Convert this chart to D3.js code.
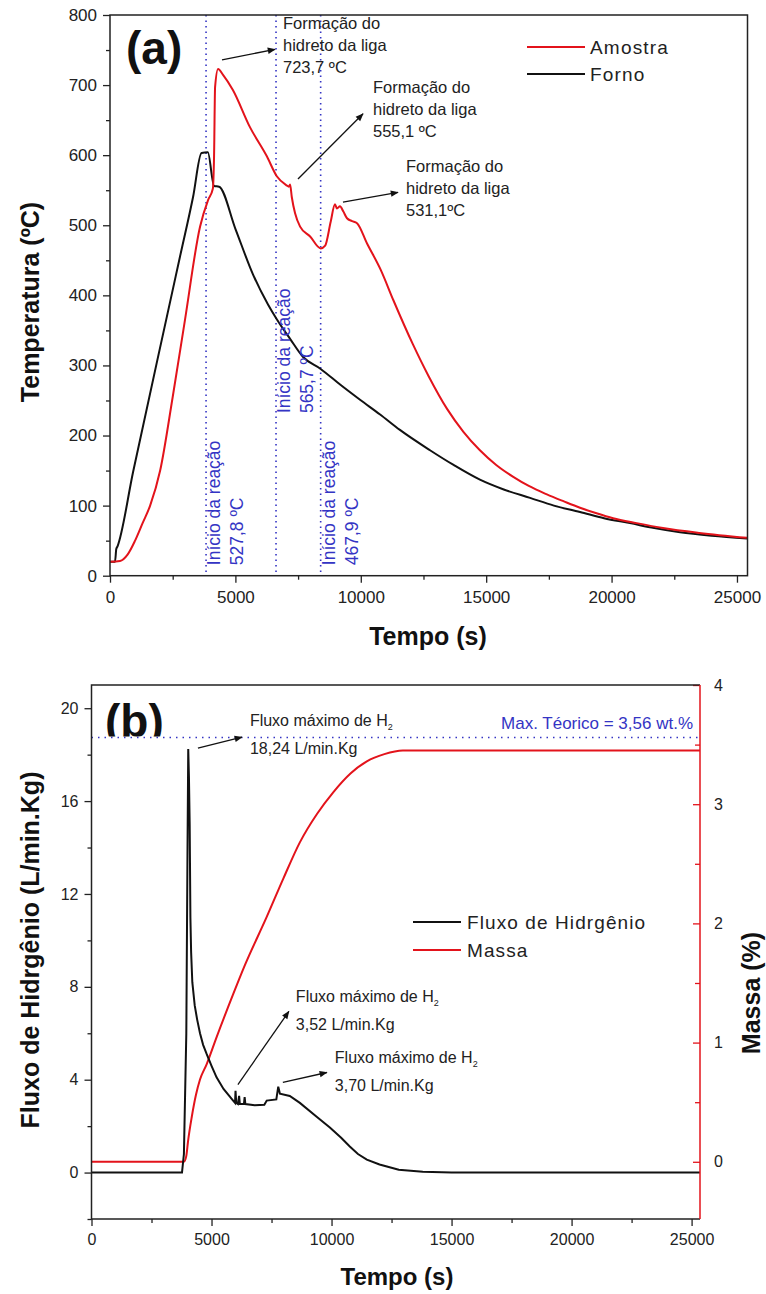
<!DOCTYPE html>
<html>
<head>
<meta charset="utf-8">
<script src="https://cdn.jsdelivr.net/npm/d3@7"></script>
<style>
  body { margin: 0; background: #fff; }
  svg { font-family: "Liberation Sans", Arial, sans-serif; }
</style>
</head>
<body>
<svg id="chart" width="766" height="1294"></svg>
<script>
// ---------- data, panel (a): temperature vs time ----------
const amostra = [
  [0,20],[400,21],[700,30],[1000,50],[1300,75],[1600,100],[2000,150],[2500,255],[2990,365],
  [3590,498],[3910,536],[4100,552],[4150,600],[4190,697],[4310,723],[4500,715],[4900,693],
  [5580,640],[6260,598],[6650,570],[7040,557],[7130,555],[7180,558],[7250,540],[7380,517],
  [7580,498],[7980,484],[8400,467],[8580,471],[8800,505],[8970,530],[9050,524],[9170,527],
  [9300,520],[9450,510],[9650,506],[9850,503],[10250,474],[10800,436],[11300,393],[12080,330],
  [12700,285],[13440,238],[14100,205],[14750,179],[15400,158],[16080,141],[16700,128],
  [17420,116],[18100,106],[18740,97],[19400,89],[20060,82],[21000,75],[22050,68],[23500,61],
  [25400,54]
];
const forno = [
  [0,20],[200,20],[250,38],[300,42],[920,148],[2270,370],[2790,455],[3310,540],[3650,603],
  [3900,604],[4150,556],[4350,555],[5000,495],[5700,430],[6300,387],[6650,366],[7180,338],
  [7700,312],[8400,295],[9200,272],[9970,251],[10770,230],[11560,208],[12760,179],[13700,158],
  [14750,137],[15700,123],[16750,111],[17700,100],[18740,91],[19700,82],[20730,75],[21700,68],
  [22730,62],[24000,57],[25400,53]
];
const reactionLines = [3830, 6620, 8400];
const reactionLabels = [
  { t: 3830, base: 15, lines: ["Início da reação", "527,8 ºC"] },
  { t: 6620, base: 232, lines: ["Início da reação", "565,7 ºC"] },
  { t: 8400, base: 15, lines: ["Início da reação", "467,9 ºC"] }
];
const peakNotes = [
  { t: 6898, T: 780, lines: ["Formação do", "hidreto da liga", "723,7 ºC"], from: [4466, 736], to: [6579, 751] },
  { t: 10486, T: 689, lines: ["Formação do", "hidreto da liga", "555,1 ºC"], from: [7496, 566], to: [10088, 659] },
  { t: 11802, T: 576, lines: ["Formação do", "hidreto da liga", "531,1ºC"], from: [9290, 533], to: [11483, 547] }
];
const tempTicks = [0, 100, 200, 300, 400, 500, 600, 700, 800];
const tempMinor = [50, 150, 250, 350, 450, 550, 650, 750];
const timeTicks = [0, 5000, 10000, 15000, 20000, 25000];
const timeMinor = [2500, 7500, 12500, 17500, 22500];

// ---------- data, panel (b): hydrogen flow and mass ----------
const fluxo = [
  [0,0],[3770,0],[3850,0.8],[3950,6],[4000,14],[4030,18.24],[4060,17],[4090,15],[4120,11],
  [4150,9.5],[4200,8.2],[4300,7.2],[4400,6.6],[4520,6.0],[4650,5.5],[4800,5.1],[5000,4.6],
  [5210,4.1],[5500,3.6],[5900,3.1],[5980,3.0],[6000,3.52],[6030,3.0],[6100,2.95],[6150,3.3],
  [6180,2.95],[6350,2.95],[6380,3.25],[6410,2.95],[6800,2.9],[7200,2.92],[7300,3.1],[7700,3.15],
  [7780,3.70],[7850,3.4],[8260,3.3],[8680,3.0],[9380,2.4],[9930,1.94],[10400,1.5],[10760,1.12],
  [11100,0.8],[11470,0.56],[12000,0.35],[12800,0.12],[13800,0.03],[15000,0],[25350,0]
];
const massa = [
  [0,0],[3850,0],[3950,0.05],[4020,0.17],[4180,0.38],[4350,0.56],[4520,0.69],[4800,0.82],
  [5220,1.05],[5890,1.4],[6390,1.65],[7290,2.05],[8000,2.38],[8680,2.68],[9400,2.92],
  [10070,3.1],[10800,3.26],[11470,3.36],[12200,3.42],[12970,3.45],[25350,3.45]
];
const maxTeorico = 3.56;
const flowNotes = [
  { t: 6599, F: 19.22, value: "18,24 L/min.Kg", from: [4434, 18.28], to: [6266, 18.75] },
  { t: 8514, F: 7.33, value: "3,52 L/min.Kg", from: [6099, 3.79], to: [8222, 6.94] },
  { t: 10138, F: 4.74, value: "3,70 L/min.Kg", from: [7972, 3.88], to: [9804, 4.31] }
];
const flowTicks = [0, 4, 8, 12, 16, 20];
const flowMinor = [-2, 2, 6, 10, 14, 18];
const massTicks = [0, 1, 2, 3, 4];
const massMinor = [0.5, 1.5, 2.5, 3.5];

const RED = "#e3131b", BLUE = "#3434c4";
const svg = d3.select("#chart");
const defs = svg.append("defs");

defs.append("marker")
  .attr("id", "arrow").attr("viewBox", "0 0 10 10")
  .attr("refX", 9).attr("refY", 5)
  .attr("markerWidth", 11).attr("markerHeight", 8)
  .attr("markerUnits", "userSpaceOnUse")
  .attr("orient", "auto")
  .append("path").attr("d", "M0,1 L10,5 L0,9 Z").attr("fill", "#111");

function styleAxis(g, color, size) {
  g.select(".domain").remove();
  g.selectAll("line").attr("stroke", color || "#222").attr("stroke-width", 1.3);
  g.selectAll("text").attr("font-size", size || 16).attr("fill", "#222")
    .attr("font-family", "Liberation Sans, Arial, sans-serif");
}

// ================= panel (a) =================
const xA = d3.scaleLinear().domain([0, 25420]).range([110, 747.5]);
const yA = d3.scaleLinear().domain([0, 800]).range([575.7, 15]);
const gA = svg.append("g");

gA.append("g").attr("transform", `translate(0,${yA(0)})`)
  .call(d3.axisBottom(xA).tickValues(timeTicks).tickFormat(d3.format("d")).tickSize(7).tickPadding(8))
  .call(g => styleAxis(g, null, 17));
gA.append("g").attr("transform", `translate(0,${yA(0)})`)
  .call(d3.axisBottom(xA).tickValues(timeMinor).tickFormat("").tickSize(4))
  .call(styleAxis);
gA.append("g").attr("transform", `translate(${xA(0)},0)`)
  .call(d3.axisLeft(yA).tickValues(tempTicks).tickFormat(d3.format("d")).tickSize(7).tickPadding(6))
  .call(g => styleAxis(g, null, 17));
gA.append("g").attr("transform", `translate(${xA(0)},0)`)
  .call(d3.axisLeft(yA).tickValues(tempMinor).tickFormat("").tickSize(4))
  .call(styleAxis);

// reaction start lines
gA.selectAll(".rline").data(reactionLines).enter().append("line")
  .attr("x1", d => xA(d)).attr("x2", d => xA(d))
  .attr("y1", yA(800)).attr("y2", yA(0))
  .attr("stroke", BLUE).attr("stroke-width", 1.6).attr("stroke-dasharray", "1.5,4");

const lineA = d3.line().x(d => xA(d[0])).y(d => yA(d[1])).curve(d3.curveMonotoneX);
gA.append("path").datum(forno).attr("d", lineA)
  .attr("fill", "none").attr("stroke", "#111").attr("stroke-width", 2);
gA.append("path").datum(amostra).attr("d", lineA)
  .attr("fill", "none").attr("stroke", RED).attr("stroke-width", 2);

gA.append("rect").attr("x", xA(0)).attr("y", yA(800))
  .attr("width", xA.range()[1] - xA(0)).attr("height", yA(0) - yA(800))
  .attr("fill", "none").attr("stroke", "#222").attr("stroke-width", 1.5);

// rotated blue labels
reactionLabels.forEach(r => {
  const x0 = xA(r.t);
  r.lines.forEach((s, i) => {
    const x = x0 + 14 + i * 23, y = yA(r.base);
    gA.append("text").attr("transform", `translate(${x},${y}) rotate(-90)`)
      .attr("font-size", 17.5).attr("fill", BLUE).text(s);
  });
});

// peak notes
peakNotes.forEach(n => {
  const t = gA.append("text").attr("x", xA(n.t)).attr("y", yA(n.T))
    .attr("font-size", 16.5).attr("fill", "#222");
  n.lines.forEach((s, i) => t.append("tspan").attr("x", xA(n.t)).attr("dy", i ? 22 : 0).text(s));
  gA.append("line")
    .attr("x1", xA(n.from[0])).attr("y1", yA(n.from[1]))
    .attr("x2", xA(n.to[0])).attr("y2", yA(n.to[1]))
    .attr("stroke", "#111").attr("stroke-width", 1.3).attr("marker-end", "url(#arrow)");
});

gA.append("text").attr("x", 126).attr("y", 64)
  .attr("font-size", 46).attr("font-weight", "bold").attr("fill", "#111").text("(a)");

// legend (a)
const legA = [{ name: "Amostra", color: RED }, { name: "Forno", color: "#111" }];
legA.forEach((l, i) => {
  const y = 47 + i * 27;
  gA.append("line").attr("x1", 527).attr("x2", 585).attr("y1", y).attr("y2", y)
    .attr("stroke", l.color).attr("stroke-width", 2);
  gA.append("text").attr("x", 590).attr("y", y + 7).attr("font-size", 19)
    .attr("letter-spacing", 1.2).attr("fill", "#222").text(l.name);
});

gA.append("text").attr("x", 428).attr("y", 645).attr("text-anchor", "middle")
  .attr("font-size", 25).attr("font-weight", "bold").attr("fill", "#111").text("Tempo (s)");
gA.append("text").attr("transform", `translate(39,302) rotate(-90)`)
  .attr("text-anchor", "middle").attr("font-size", 25).attr("font-weight", "bold")
  .attr("fill", "#111").text("Temperatura (ºC)");

// ================= panel (b) =================
const xB = d3.scaleLinear().domain([0, 25350]).range([91.5, 700]);
const yB = d3.scaleLinear().domain([-2, 21]).range([1219, 685]);
const yM = d3.scaleLinear().domain([-0.48, 4]).range([1219, 685]);
const gB = svg.append("g");

gB.append("g").attr("transform", `translate(0,${yB(-2)})`)
  .call(d3.axisBottom(xB).tickValues(timeTicks).tickFormat(d3.format("d")).tickSize(7).tickPadding(8))
  .call(styleAxis);
gB.append("g").attr("transform", `translate(0,${yB(-2)})`)
  .call(d3.axisBottom(xB).tickValues(timeMinor).tickFormat("").tickSize(4))
  .call(styleAxis);
gB.append("g").attr("transform", `translate(${xB(0)},0)`)
  .call(d3.axisLeft(yB).tickValues(flowTicks).tickFormat(d3.format("d")).tickSize(7).tickPadding(6))
  .call(styleAxis);
gB.append("g").attr("transform", `translate(${xB(0)},0)`)
  .call(d3.axisLeft(yB).tickValues(flowMinor).tickFormat("").tickSize(4))
  .call(styleAxis);
gB.append("g").attr("transform", `translate(${xB.range()[1]},0)`)
  .call(d3.axisRight(yM).tickValues(massTicks).tickFormat(d3.format("d")).tickSizeInner(-7).tickSizeOuter(0).tickPadding(14))
  .call(g => styleAxis(g, RED));
gB.append("g").attr("transform", `translate(${xB.range()[1]},0)`)
  .call(d3.axisRight(yM).tickValues(massMinor).tickFormat("").tickSizeInner(-5).tickSizeOuter(0))
  .call(g => styleAxis(g, RED));

// theoretical max line
gB.append("line").attr("x1", xB(0)).attr("x2", xB.range()[1])
  .attr("y1", yM(maxTeorico)).attr("y2", yM(maxTeorico))
  .attr("stroke", BLUE).attr("stroke-width", 1.6).attr("stroke-dasharray", "1.5,5");
gB.append("text").attr("x", xB.range()[1] - 7).attr("y", yM(3.63))
  .attr("text-anchor", "end").attr("font-size", 17).attr("fill", BLUE)
  .text("Max. Téorico = 3,56 wt.%");

gB.append("path").datum(massa)
  .attr("d", d3.line().x(d => xB(d[0])).y(d => yM(d[1])).curve(d3.curveMonotoneX))
  .attr("fill", "none").attr("stroke", RED).attr("stroke-width", 2);
gB.append("path").datum(fluxo)
  .attr("d", d3.line().x(d => xB(d[0])).y(d => yB(d[1])))
  .attr("fill", "none").attr("stroke", "#111").attr("stroke-width", 2);

// frame: black left/top/bottom, red right
const bx0 = xB(0), bx1 = xB.range()[1], by0 = yB(21), by1 = yB(-2);
gB.append("path").attr("d", `M${bx1},${by0} H${bx0} V${by1} H${bx1}`)
  .attr("fill", "none").attr("stroke", "#222").attr("stroke-width", 1.5);
gB.append("line").attr("x1", bx1).attr("x2", bx1).attr("y1", by0).attr("y2", by1)
  .attr("stroke", RED).attr("stroke-width", 1.5);

flowNotes.forEach(n => {
  const t = gB.append("text").attr("x", xB(n.t)).attr("y", yB(n.F))
    .attr("font-size", 16).attr("fill", "#222");
  t.append("tspan").text("Fluxo máximo de H");
  t.append("tspan").attr("font-size", 9).attr("dy", 4).text("2");
  gB.append("text").attr("x", xB(n.t)).attr("y", yB(n.F) + 28)
    .attr("font-size", 16).attr("fill", "#222").text(n.value);
  gB.append("line")
    .attr("x1", xB(n.from[0])).attr("y1", yB(n.from[1]))
    .attr("x2", xB(n.to[0])).attr("y2", yB(n.to[1]))
    .attr("stroke", "#111").attr("stroke-width", 1.3).attr("marker-end", "url(#arrow)");
});

// "(b)" is cut off at the dotted line, as in the original figure
defs.append("clipPath").attr("id", "clipB").append("rect")
  .attr("x", bx0).attr("y", by0).attr("width", 200).attr("height", yM(maxTeorico) - by0 - 1);
gB.append("text").attr("x", 105).attr("y", 737).attr("clip-path", "url(#clipB)")
  .attr("font-size", 46).attr("font-weight", "bold").attr("fill", "#111").text("(b)");

const legB = [{ name: "Fluxo de Hidrgênio", color: "#111" }, { name: "Massa", color: RED }];
legB.forEach((l, i) => {
  const y = 922 + i * 28;
  gB.append("line").attr("x1", 413).attr("x2", 461).attr("y1", y).attr("y2", y)
    .attr("stroke", l.color).attr("stroke-width", 2);
  gB.append("text").attr("x", 467).attr("y", y + 7).attr("font-size", 19)
    .attr("letter-spacing", 1.1).attr("fill", "#222").text(l.name);
});

gB.append("text").attr("x", 397).attr("y", 1285).attr("text-anchor", "middle")
  .attr("font-size", 24).attr("font-weight", "bold").attr("fill", "#111").text("Tempo (s)");
gB.append("text").attr("transform", `translate(39,950) rotate(-90)`)
  .attr("text-anchor", "middle").attr("font-size", 25).attr("font-weight", "bold")
  .attr("fill", "#111").text("Fluxo de Hidrgênio (L/min.Kg)");
gB.append("text").attr("transform", `translate(760,993) rotate(-90)`)
  .attr("text-anchor", "middle").attr("font-size", 25).attr("font-weight", "bold")
  .attr("fill", "#111").text("Massa (%)");
</script>
</body>
</html>
